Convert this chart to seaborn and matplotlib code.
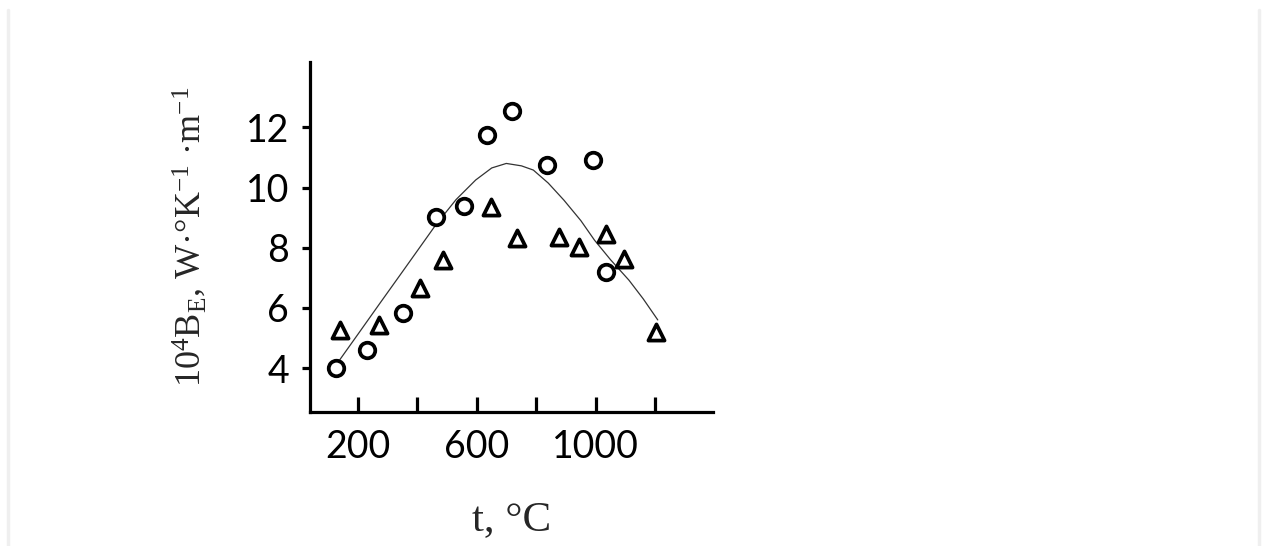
import numpy as np
import pandas as pd
import matplotlib.pyplot as plt
import seaborn as sns
from matplotlib.lines import Line2D

# data
circle_t = [125, 229, 351, 461, 558, 635, 719, 837, 990, 1035]
circle_b = [4.0, 4.6, 5.82, 9.03, 9.4, 11.76, 12.54, 10.75, 10.9, 7.2]

triangle_t = [138, 270, 409, 487, 648, 735, 876, 944, 1035, 1095, 1202]
triangle_b = [5.26, 5.43, 6.65, 7.6, 9.36, 8.33, 8.36, 8.03, 8.47, 7.62, 5.2]

curve_t = [138, 200, 274, 350, 461, 530, 596, 650, 699, 750, 790, 840, 893, 950, 996, 1050, 1112, 1160, 1209]
curve_b = [4.27, 5.13, 6.16, 7.21, 8.75, 9.6, 10.25, 10.65, 10.8, 10.72, 10.58, 10.15, 9.58, 8.9, 8.25, 7.6, 6.92, 6.3, 5.6]

x_ticks = [200, 400, 600, 800, 1000, 1200]
x_tick_labels = ['200', '', '600', '', '1000', '']
y_ticks = [4, 6, 8, 10, 12]

df_c = pd.DataFrame({'t': circle_t, 'B': circle_b})
df_t = pd.DataFrame({'t': triangle_t, 'B': triangle_b})
df_fit = pd.DataFrame({'t': curve_t, 'B': curve_b})

sns.set_style('white')
plt.rcParams['mathtext.fontset'] = 'custom'
plt.rcParams['mathtext.rm'] = 'Liberation Serif'
plt.rcParams['mathtext.it'] = 'Liberation Serif:italic'

fig = plt.figure(figsize=(12.62, 5.46), dpi=100)
ax = fig.add_axes([0.2456, 0.2454, 0.3194, 0.641])

# fitted curve
sns.lineplot(data=df_fit, x='t', y='B', ax=ax, color='#333333', linewidth=0.9, sort=False)

# measured points
sns.scatterplot(data=df_c, x='t', y='B', ax=ax, marker='o', s=125,
                facecolor='white', edgecolor='black', linewidth=2.7, zorder=3)
sns.scatterplot(data=df_t, x='t', y='B', ax=ax, marker='^', s=135,
                facecolor='white', edgecolor='black', linewidth=2.7, zorder=3)

ax.set_xlim(38, 1395)
ax.set_ylim(2.54, 14.17)
ax.set_xticks(x_ticks)
ax.set_xticklabels(x_tick_labels)
ax.set_yticks(y_ticks)

for side in ['top', 'right']:
    ax.spines[side].set_visible(False)
for side in ['left', 'bottom']:
    ax.spines[side].set_linewidth(2.3)
    ax.spines[side].set_color('black')

ax.tick_params(axis='x', bottom=True, direction='in', length=11, width=2.3, pad=12,
               labelsize=27, colors='black')
ax.tick_params(axis='y', left=True, direction='out', length=6, width=2.3, pad=9,
               labelsize=27, colors='black')
for lab in ax.get_xticklabels() + ax.get_yticklabels():
    lab.set_family('Lato')

ax.set_xlabel('t, °C', fontsize=31, family='Liberation Serif', labelpad=26)
ax.set_ylabel(r'10$^4$B$_\mathrm{E}$, W·°K$^{-1}$ ·m$^{-1}$', fontsize=26,
              family='Liberation Serif', labelpad=27)

# faint frame lines at the image edges
fig.add_artist(Line2D([8 / 1262, 8 / 1262], [0, 1 - 10 / 546], transform=fig.transFigure,
                      color='#efefef', linewidth=2.5))
fig.add_artist(Line2D([1259 / 1262, 1259 / 1262], [0, 1 - 10 / 546], transform=fig.transFigure,
                      color='#efefef', linewidth=2.5))

fig.savefig('out.png', dpi=100, facecolor='white')
